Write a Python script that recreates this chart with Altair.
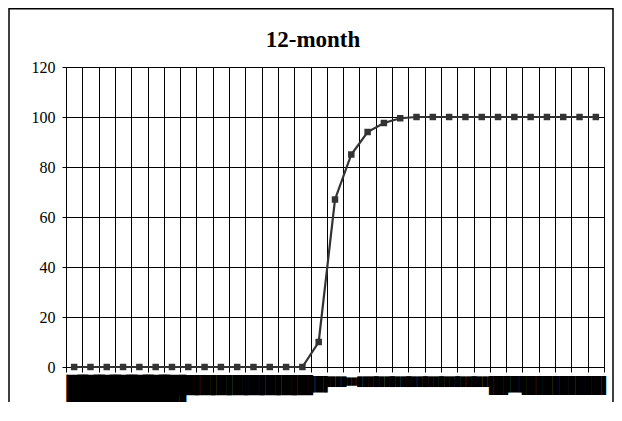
import altair as alt
import pandas as pd

months = [1, 2, 3, 4, 5, 6, 7, 8, 9, 10, 11, 12, 13, 14, 15, 16, 17,
          18, 19, 20, 21, 22, 23, 24, 25, 26, 27, 28, 29, 30, 31, 32, 33]
values = [0, 0, 0, 0, 0, 0, 0, 0, 0, 0, 0, 0, 0, 0, 0,
          10, 67, 85, 94, 97.6, 99.5,
          100, 100, 100, 100, 100, 100, 100, 100, 100, 100, 100, 100]

df = pd.DataFrame({"month": months, "value": values})

# x-axis labels render as solid black blocks in the reference
size_cond = {
    "condition": [
        {"test": "datum.value <= 7", "value": 23},
        {"test": "datum.value <= 15", "value": 17},
        {"test": "datum.value == 16 || datum.value == 28", "value": 14},
        {"test": "datum.value == 18", "value": 7},
        {"test": "datum.value <= 26", "value": 9},
    ],
    "value": 16,
}
label_expr = (
    "(datum.value >= 1 && datum.value <= 33) ? ("
    "datum.value == 1 ? '\u2595\u2588\u258C' : "
    "(datum.value >= 17 && datum.value <= 26) ? '\u2588\u2588\u2588\u2588' : "
    "'\u2590\u2588\u258C') : ''"
)

x_enc = alt.X(
    "month:O",
    scale=alt.Scale(type="band", paddingInner=0, paddingOuter=0),
    axis=alt.Axis(
        title=None,
        grid=True,
        tickBand="extent",
        labelAngle=0,
        labelBaseline="top",
        labelPadding=5,
        labelFont="DejaVu Sans Mono",
        labelFontSize=size_cond,
        labelColor="black",
        labelOverlap=False,
        labelExpr=label_expr,
        tickSize=5,
        tickColor="black",
        domainColor="black",
        gridColor="black",
        gridOpacity=1,
        gridWidth=1,
    ),
)

y_enc = alt.Y(
    "value:Q",
    scale=alt.Scale(domain=[0, 120], nice=False, zero=True),
    axis=alt.Axis(
        title=None,
        values=[0, 20, 40, 60, 80, 100, 120],
        labelFont="Liberation Serif",
        labelFontSize=16,
        labelColor="black",
        labelPadding=7,
        tickSize=4,
        tickColor="black",
        domainColor="black",
        gridColor="black",
        gridOpacity=1,
        gridWidth=1,
    ),
)

line = alt.Chart(df).mark_line(
    color="#333333",
    strokeWidth=2.2,
    point=alt.OverlayMarkDef(shape="square", size=42, filled=True, color="#333333", opacity=1),
).encode(x=x_enc, y=y_enc)

frame = alt.Chart(pd.DataFrame({"a": [0]})).mark_rect(
    filled=False, stroke="black", strokeWidth=1.5
).encode(
    x=alt.value(-57), x2=alt.value(547), y=alt.value(-58.2), y2=alt.value(380)
)

chart = alt.layer(line, frame).properties(
    width=538,
    height=300,
    padding={"left": 58, "top": 59, "right": 10, "bottom": 35},
    autosize=alt.AutoSizeParams(type="none"),
    title=alt.TitleParams(
        "12-month",
        font="Liberation Serif",
        fontSize=23,
        fontWeight="bold",
        color="black",
        anchor="middle",
        frame="group",
        baseline="alphabetic",
        dx=-22,
        offset=-62,
    ),
).configure_view(stroke=None).configure(background="white")

chart.save("out.html", embed_options={"renderer": "svg", "actions": False})
